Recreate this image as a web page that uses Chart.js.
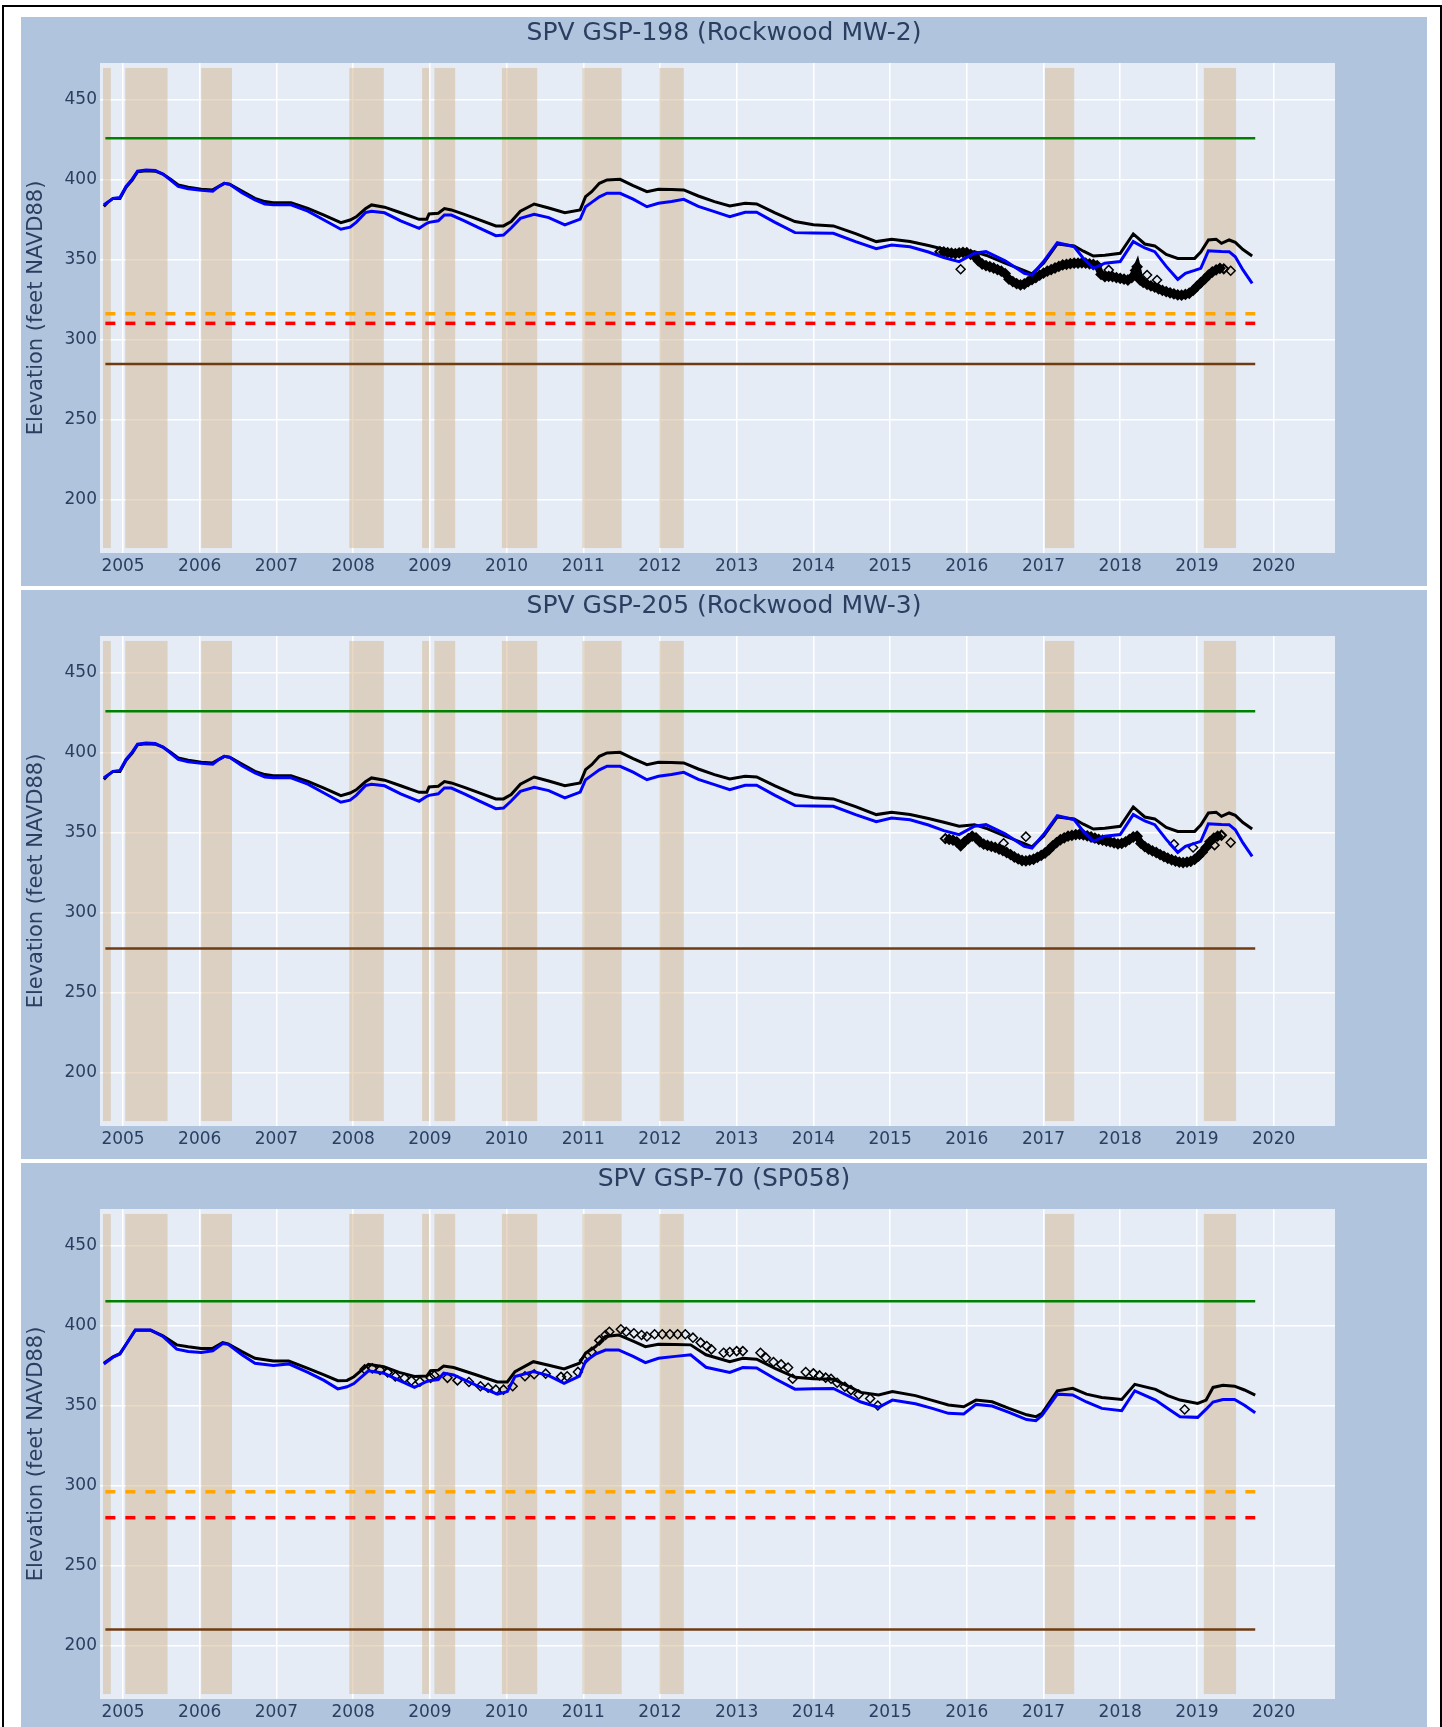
<!DOCTYPE html>
<html>
<head>
<meta charset="utf-8">
<title>SPV groundwater elevation hydrographs</title>
<script src="https://cdn.jsdelivr.net/npm/chart.js@4.4.1/dist/chart.umd.min.js"></script>
<style>
    html, body { margin: 0; padding: 0; background: #fff; }
    body { position: relative; width: 1442px; height: 1727px; overflow: hidden; }
    #frame { position: absolute; left: 2px; top: 5px; width: 1440px; height: 1760px; box-sizing: border-box; border: 2px solid #000; }
    canvas.panel { position: absolute; left: 21px; }
</style>
</head>
<body>
<div id="frame"></div>
<canvas id="gsp198" class="panel" width="1406" height="569" style="top:17px"></canvas>
<canvas id="gsp205" class="panel" width="1406" height="569" style="top:590px"></canvas>
<canvas id="gsp70" class="panel" width="1406" height="569" style="top:1163px"></canvas>
<script>
// Axis ticks
const yearTicks = [2005, 2006, 2007, 2008, 2009, 2010, 2011, 2012, 2013, 2014, 2015, 2016, 2017, 2018, 2019, 2020];
const elevTicks = [200, 250, 300, 350, 400, 450];

// Shaded periods (decimal years)
const bandStarts = [2004.74, 2005.03, 2006.02, 2007.95, 2008.90, 2009.06, 2009.94, 2010.99, 2011.99, 2017.02, 2019.09];
const bandEnds   = [2004.84, 2005.58, 2006.42, 2008.40, 2008.99, 2009.33, 2010.40, 2011.50, 2012.31, 2017.40, 2019.51];

// Horizontal reference lines span the model period
const levelTime = [2004.77, 2019.76];
const greenLevel  = [426, 426, 415.5];
const orangeLevel = [316.4, null, 296.4];
const redLevel    = [310.4, null, 280.2];
const brownLevel  = [285, 277.8, 210.4];

// Simulated heads, GSP-198 / GSP-205
const simTimeA = [2004.75, 2004.80, 2004.87, 2004.96, 2005.04, 2005.12, 2005.19, 2005.30, 2005.42, 2005.52,
    2005.62, 2005.72, 2005.85, 2006.02, 2006.17, 2006.25, 2006.32, 2006.39, 2006.55, 2006.72,
    2006.85, 2006.96, 2007.19, 2007.41, 2007.62, 2007.84, 2007.96, 2008.04, 2008.16, 2008.24,
    2008.41, 2008.62, 2008.86, 2008.96, 2008.99, 2009.11, 2009.19, 2009.28, 2009.45, 2009.62,
    2009.86, 2009.96, 2010.06, 2010.18, 2010.36, 2010.55, 2010.76, 2010.96, 2011.03, 2011.11,
    2011.21, 2011.31, 2011.48, 2011.65, 2011.83, 2011.98, 2012.15, 2012.31, 2012.50, 2012.71,
    2012.91, 2013.11, 2013.26, 2013.50, 2013.76, 2014.00, 2014.26, 2014.55, 2014.82, 2015.02,
    2015.26, 2015.50, 2015.70, 2015.90, 2016.10, 2016.25, 2016.50, 2016.75, 2016.85, 2017.00,
    2017.18, 2017.40, 2017.52, 2017.65, 2017.80, 2018.00, 2018.17, 2018.32, 2018.45, 2018.60,
    2018.75, 2018.85, 2018.97, 2019.05, 2019.15, 2019.25, 2019.32, 2019.42, 2019.50, 2019.60, 2019.72];
const simBlackA = [383.5, 386, 388.5, 388.5, 395.5, 400, 405.2, 405.8, 405.5, 403.7,
    400.5, 396.9, 395.5, 394.2, 393.8, 396, 397.9, 397.3, 393, 388.5,
    386.5, 385.8, 385.8, 382.3, 378, 373.3, 375, 377, 382, 384.4,
    383, 379.5, 375.4, 375.4, 378.8, 379.2, 382.1, 381.3, 378.5, 375.5,
    371.3, 371.3, 374, 380.5, 385, 382.5, 379.6, 381.3, 389.6, 392.7,
    397.9, 400, 400.4, 396.5, 392.7, 394.2, 394, 393.8, 390, 386.5,
    383.8, 385.4, 385, 379.5, 374, 372, 371.3, 366.5, 361.5, 363,
    361.5, 359, 356.7, 354.2, 355.2, 353, 348, 343.3, 341.3, 348,
    360, 358.8, 355.5, 352.5, 353, 354.2, 366.3, 360, 358.8, 353.5,
    351, 351, 351, 355, 362.5, 363, 360.4, 362.5, 361, 356.5, 352.5];
const simBlueA = [384.5, 386, 388.5, 389, 396, 400.5, 405.5, 406.2, 406, 403.7,
    400, 396, 394.5, 393.5, 393, 396, 397.9, 397.3, 392, 387.5,
    385, 384.5, 384.5, 380.5, 375, 369.2, 370.5, 373.5, 379.6, 380.5,
    379.5, 374.5, 369.8, 372.9, 373.5, 374.5, 378.1, 378.1, 374.5, 370.5,
    365.2, 365.6, 370, 376, 378.5, 376.5, 371.9, 375.5, 383.3, 386,
    389.5, 391.7, 391.7, 388, 383.3, 385.4, 386.5, 387.9, 383.5, 380.2,
    377, 379.8, 379.8, 373.5, 367.1, 366.8, 366.7, 361.5, 357, 359.4,
    358.3, 355, 351.5, 349, 354.2, 355.2, 349.5, 341.7, 340.6, 349,
    360.8, 358.3, 351, 344.8, 348, 349, 361.5, 357.5, 355.2, 346,
    337.9, 341.7, 343.5, 344.8, 355.8, 355.5, 355.3, 355.2, 352, 343.8, 335.4];

// Observed levels, GSP-198: continuous logger record and separate readings
const logTime198 = [2015.65, 2015.70, 2015.75, 2015.80, 2015.85, 2015.90, 2015.95, 2016.00, 2016.05, 2016.10,
    2016.15, 2016.20, 2016.25, 2016.30, 2016.35, 2016.40, 2016.45, 2016.50, 2016.55, 2016.60,
    2016.65, 2016.70, 2016.75, 2016.80, 2016.85, 2016.90, 2016.95, 2017.00, 2017.05, 2017.10,
    2017.15, 2017.20, 2017.25, 2017.30, 2017.35, 2017.40, 2017.45, 2017.50, 2017.55, 2017.60,
    2017.65, 2017.70, 2017.75, 2017.80, 2017.85, 2017.90, 2017.95, 2018.00, 2018.05, 2018.10,
    2018.15, 2018.20, 2018.22, 2018.26, 2018.30, 2018.35, 2018.40, 2018.45, 2018.50, 2018.55,
    2018.60, 2018.65, 2018.70, 2018.75, 2018.80, 2018.85, 2018.90, 2018.95, 2019.00, 2019.05,
    2019.10, 2019.15, 2019.20, 2019.25, 2019.30, 2019.35];
const logLevel198 = [355.2, 355, 354.6, 354.3, 354, 354.4, 354.8, 354.6, 353.5, 352.5,
    349.5, 347.5, 346.5, 345.8, 345, 344, 343, 341.5, 338, 336.5,
    335.2, 334.4, 335, 336.5, 337.8, 339, 340.5, 341.8, 343, 344,
    345, 346, 346.9, 347.3, 347.7, 348, 348, 348.2, 348, 347.6,
    347.2, 346.5, 341, 339.6, 339.8, 339.6, 339, 338.5, 338, 337.5,
    339, 343.5, 345.8, 337.5, 336, 334.8, 333.8, 333, 332, 331,
    330.2, 329.5, 328.8, 328.2, 328, 328.5, 329.2, 331, 333.5, 335.8,
    338, 340.5, 342.5, 343.8, 344.8, 344.5];
const readTime198 = [2015.92, 2017.85, 2018.35, 2018.48, 2019.44];
const readLevel198 = [344.2, 343.8, 340.6, 337.5, 343.3];

// Observed levels, GSP-205
const logTime205 = [2015.72, 2015.77, 2015.82, 2015.87, 2015.92, 2015.97, 2016.02, 2016.07, 2016.12, 2016.17,
    2016.22, 2016.27, 2016.32, 2016.37, 2016.42, 2016.47, 2016.52, 2016.57, 2016.62, 2016.67,
    2016.72, 2016.77, 2016.82, 2016.87, 2016.92, 2016.97, 2017.02, 2017.07, 2017.12, 2017.17,
    2017.22, 2017.27, 2017.32, 2017.37, 2017.42, 2017.47, 2017.52, 2017.57, 2017.62, 2017.67,
    2017.72, 2017.77, 2017.82, 2017.87, 2017.92, 2017.97, 2018.02, 2018.07, 2018.12, 2018.17,
    2018.22, 2018.27, 2018.32, 2018.37, 2018.42, 2018.47, 2018.52, 2018.57, 2018.62, 2018.67,
    2018.72, 2018.77, 2018.82, 2018.87, 2018.92, 2018.97, 2019.02, 2019.07, 2019.12, 2019.17,
    2019.22, 2019.27, 2019.32];
const logLevel205 = [346.5, 346, 345.5, 344.5, 342, 344.5, 346.5, 348, 347, 344.5,
    343, 342.3, 341.6, 341, 340, 339, 337.8, 336.5, 335, 333.8,
    332.8, 332.6, 333, 333.6, 334.8, 336, 337.5, 339.5, 342, 344,
    345.8, 347, 348, 348.5, 349, 349.2, 348.8, 348.2, 347.5, 346.8,
    346, 345.5, 345, 344.5, 343.8, 343.2, 343.5, 344.5, 346, 347.5,
    348, 343.5, 341.5, 340, 338.8, 337.8, 336.5, 335.3, 334.2, 333.3,
    332.5, 331.8, 331.5, 331.8, 332.3, 333.5, 335.5, 338, 341, 344.5,
    346.8, 348, 348.6];
const readTime205 = [2016.48, 2016.77, 2018.70, 2018.95, 2019.23, 2019.44];
const readLevel205 = [343.6, 347.7, 343, 340.9, 342.4, 344];

// Simulated heads, GSP-70
const simTimeB = [2004.75, 2004.87, 2004.96, 2005.06, 2005.16, 2005.36, 2005.52, 2005.70, 2005.85, 2006.02,
    2006.17, 2006.30, 2006.37, 2006.55, 2006.72, 2006.96, 2007.16, 2007.41, 2007.62, 2007.80,
    2007.92, 2008.01, 2008.20, 2008.40, 2008.60, 2008.80, 2008.96, 2009.01, 2009.11, 2009.18,
    2009.31, 2009.60, 2009.88, 2010.01, 2010.11, 2010.35, 2010.55, 2010.75, 2010.95, 2011.03,
    2011.16, 2011.29, 2011.46, 2011.65, 2011.81, 2011.98, 2012.20, 2012.40, 2012.60, 2012.91,
    2013.08, 2013.26, 2013.50, 2013.76, 2014.00, 2014.26, 2014.62, 2014.85, 2015.03, 2015.33,
    2015.55, 2015.76, 2015.96, 2016.12, 2016.33, 2016.55, 2016.78, 2016.90, 2016.98, 2017.18,
    2017.38, 2017.56, 2017.76, 2018.02, 2018.19, 2018.46, 2018.62, 2018.78, 2019.01, 2019.12,
    2019.21, 2019.34, 2019.49, 2019.62, 2019.76];
const simBlackB = [376.7, 380.7, 382.8, 390, 397.3, 397.3, 393.8, 388.2, 387, 386,
    386, 389.6, 388.8, 384, 379.8, 378.1, 378.1, 373.5, 369.5, 365.8,
    366, 368.3, 376, 374.5, 371, 368.5, 368.7, 372, 372.4, 375,
    374, 369.5, 365, 365, 371.5, 377.7, 375.5, 373.2, 376.7, 383,
    387.1, 393.4, 394.4, 390.5, 387.1, 388.6, 388.5, 388.2, 382, 377.7,
    379.8, 379.2, 373.5, 367.9, 367, 366.7, 358.5, 356.9, 359, 356.5,
    353.5, 350.6, 349.5, 353.7, 352.6, 348.5, 344.5, 343.3, 345.4, 359.5,
    361, 357.4, 355.3, 354.1, 363.5, 360.4, 356.5, 353.7, 351.6, 353.7,
    361.6, 363, 362.4, 360, 356.8];
const simBlueB = [376.2, 380.5, 382.5, 390, 397.5, 397.5, 393.5, 385.5, 384, 383.5,
    384.5, 389, 388.5, 382, 376.7, 375.3, 376.3, 371, 366, 360.7,
    362, 364, 372, 370.5, 366, 361.7, 365.3, 366, 366.5, 370.5,
    369.4, 363, 357.4, 359, 368.4, 371.5, 369, 364.2, 368.7, 378,
    382.5, 385, 385, 381, 377.1, 379.8, 381, 382, 374.2, 371,
    374, 373.7, 367, 360.5, 360.8, 361, 352.5, 349.2, 353.7, 351.4,
    348.5, 345.4, 345, 351, 350, 346, 341.5, 340.8, 344, 357.4,
    356.9, 352.5, 348.5, 347.1, 359.5, 353.7, 348.5, 343.3, 342.9, 348,
    352.5, 354.1, 354.1, 350.5, 345.8];

// Observed levels, GSP-70 (readings only)
const readTime70 = [2008.15, 2008.25, 2008.35, 2008.45, 2008.55, 2008.67, 2008.76, 2008.87, 2009.01, 2009.06,
    2009.23, 2009.36, 2009.51, 2009.66, 2009.76, 2009.86, 2009.96, 2010.08, 2010.24, 2010.36,
    2010.51, 2010.71, 2010.79, 2010.93, 2011.01, 2011.11, 2011.21, 2011.29, 2011.34, 2011.49,
    2011.56, 2011.66, 2011.76, 2011.83, 2011.93, 2012.03, 2012.13, 2012.23, 2012.33, 2012.43,
    2012.53, 2012.61, 2012.67, 2012.83, 2012.91, 2013.00, 2013.08, 2013.31, 2013.38, 2013.48,
    2013.58, 2013.67, 2013.73, 2013.90, 2014.00, 2014.08, 2014.16, 2014.23, 2014.31, 2014.41,
    2014.49, 2014.59, 2014.74, 2014.84, 2018.84];
const readLevel70 = [373, 373.5, 372.5, 371, 368.5, 367.5, 365.8, 365.2, 367.6, 369,
    367.6, 366, 365, 362.3, 361.4, 360.2, 360.2, 362.3, 368.6, 369.8,
    370.2, 368.2, 368.6, 371.3, 378.6, 383.8, 391, 394.4, 396.4, 397.9,
    396.4, 395.4, 394.4, 393.4, 394.8, 394.8, 394.8, 394.8, 394.8, 392.7,
    389.6, 387.5, 385.4, 383.3, 383.7, 384.3, 384.3, 383.3, 380.2, 377.5,
    376, 374, 367, 371.2, 370.4, 369.1, 367.7, 367, 364.5, 362,
    359.9, 357.2, 354.7, 350.3, 347.8];

Chart.defaults.font.family = "'DejaVu Sans', Verdana, sans-serif";
Chart.defaults.color = '#2a3f5f';

function toPoints(times, values) {
    return times.map((t, i) => ({ x: t, y: values[i] }));
}

// Panel background, plot background, shaded periods and centred title
const panelDecor = {
    id: 'panelDecor',
    beforeDraw(chart) {
        const { ctx, chartArea: a, width, height } = chart;
        ctx.save();
        ctx.fillStyle = '#b0c4de';
        ctx.fillRect(0, 0, width, height);
        ctx.fillStyle = '#e5ecf6';
        ctx.fillRect(a.left, a.top, a.right - a.left, a.bottom - a.top);
        ctx.restore();
    },
    beforeDatasetsDraw(chart) {
        const { ctx, scales: { x, y } } = chart;
        const top = y.getPixelForValue(470);
        const bottom = y.getPixelForValue(170);
        ctx.save();
        ctx.fillStyle = 'rgba(210, 180, 140, 0.5)';
        bandStarts.forEach((start, i) => {
            const left = x.getPixelForValue(start);
            const right = x.getPixelForValue(bandEnds[i]);
            ctx.fillRect(left, top, right - left, bottom - top);
        });
        ctx.restore();
    },
    afterDraw(chart, args, opts) {
        const { ctx, width } = chart;
        ctx.save();
        ctx.fillStyle = '#2a3f5f';
        ctx.font = "25px 'DejaVu Sans', Verdana, sans-serif";
        ctx.textAlign = 'center';
        ctx.textBaseline = 'middle';
        ctx.fillText(opts.text, width / 2, 16);
        ctx.restore();
    }
};

function levelLine(value, color, dashed) {
    return {
        data: toPoints(levelTime, [value, value]),
        borderColor: color,
        borderWidth: dashed ? 3.5 : 2.5,
        borderDash: dashed ? [10, 10] : [],
        pointRadius: 0,
        order: 6
    };
}

function diamonds(times, levels, order) {
    return {
        data: toPoints(times, levels),
        showLine: false,
        pointStyle: 'rectRot',
        pointRadius: 4.5,
        pointBorderWidth: 1.5,
        pointBorderColor: '#000000',
        pointBackgroundColor: 'rgba(0,0,0,0)',
        order: order
    };
}

function makePanel(canvasId, title, idx, sim, obs) {
    const datasets = [
        {
            data: toPoints(sim.time, sim.blue),
            borderColor: '#0000ff',
            borderWidth: 3,
            pointRadius: 0,
            order: 1
        },
        {
            data: toPoints(sim.time, sim.black),
            borderColor: '#000000',
            borderWidth: 3,
            pointRadius: 0,
            order: 2
        },
        diamonds(obs.readTime, obs.readLevel, 3),
        levelLine(greenLevel[idx], '#008000', false),
        levelLine(brownLevel[idx], '#6e3b12', false)
    ];
    // Dense logger record plots as a solid band of markers
    if (obs.logTime) {
        const band = diamonds(obs.logTime, obs.logLevel, 4);
        band.showLine = true;
        band.borderColor = '#000000';
        band.borderWidth = 7;
        band.pointRadius = 4.5;
        band.pointBorderWidth = 2;
        datasets.push(band);
    }
    if (orangeLevel[idx] !== null) datasets.push(levelLine(orangeLevel[idx], '#ffa500', true));
    if (redLevel[idx] !== null) datasets.push(levelLine(redLevel[idx], '#ff0000', true));

    new Chart(document.getElementById(canvasId), {
        type: 'line',
        data: { datasets },
        options: {
            responsive: false,
            animation: false,
            devicePixelRatio: 1,
            layout: { padding: { left: 0, right: 92, top: 46, bottom: 0 } },
            plugins: {
                legend: { display: false },
                tooltip: { enabled: false },
                title: { display: false },
                panelDecor: { text: title }
            },
            scales: {
                x: {
                    type: 'linear',
                    min: 2004.70,
                    max: 2020.80,
                    afterFit: (scale) => { scale.height = 33; },
                    afterBuildTicks: (scale) => { scale.ticks = yearTicks.map(v => ({ value: v })); },
                    ticks: { padding: 3, font: { size: 17 }, color: '#2a3f5f', maxRotation: 0, callback: v => String(v) },
                    grid: { color: '#ffffff', lineWidth: 1.5, drawTicks: false },
                    border: { display: false }
                },
                y: {
                    min: 166.9,
                    max: 473.1,
                    afterFit: (scale) => { scale.width = 79; },
                    afterBuildTicks: (scale) => { scale.ticks = elevTicks.map(v => ({ value: v })); },
                    ticks: { padding: 3, font: { size: 17 }, color: '#2a3f5f', callback: v => String(v) },
                    grid: { color: '#ffffff', lineWidth: 1.5, drawTicks: false },
                    border: { display: false },
                    title: {
                        display: true,
                        text: 'Elevation (feet NAVD88)',
                        color: '#2a3f5f',
                        font: { size: 21 },
                        padding: { top: 3, bottom: 0 }
                    }
                }
            }
        },
        plugins: [panelDecor]
    });
}

makePanel('gsp198', 'SPV GSP-198 (Rockwood MW-2)', 0,
    { time: simTimeA, black: simBlackA, blue: simBlueA },
    { logTime: logTime198, logLevel: logLevel198, readTime: readTime198, readLevel: readLevel198 });
makePanel('gsp205', 'SPV GSP-205 (Rockwood MW-3)', 1,
    { time: simTimeA, black: simBlackA, blue: simBlueA },
    { logTime: logTime205, logLevel: logLevel205, readTime: readTime205, readLevel: readLevel205 });
makePanel('gsp70', 'SPV GSP-70 (SP058)', 2,
    { time: simTimeB, black: simBlackB, blue: simBlueB },
    { readTime: readTime70, readLevel: readLevel70 });
</script>
</body>
</html>
